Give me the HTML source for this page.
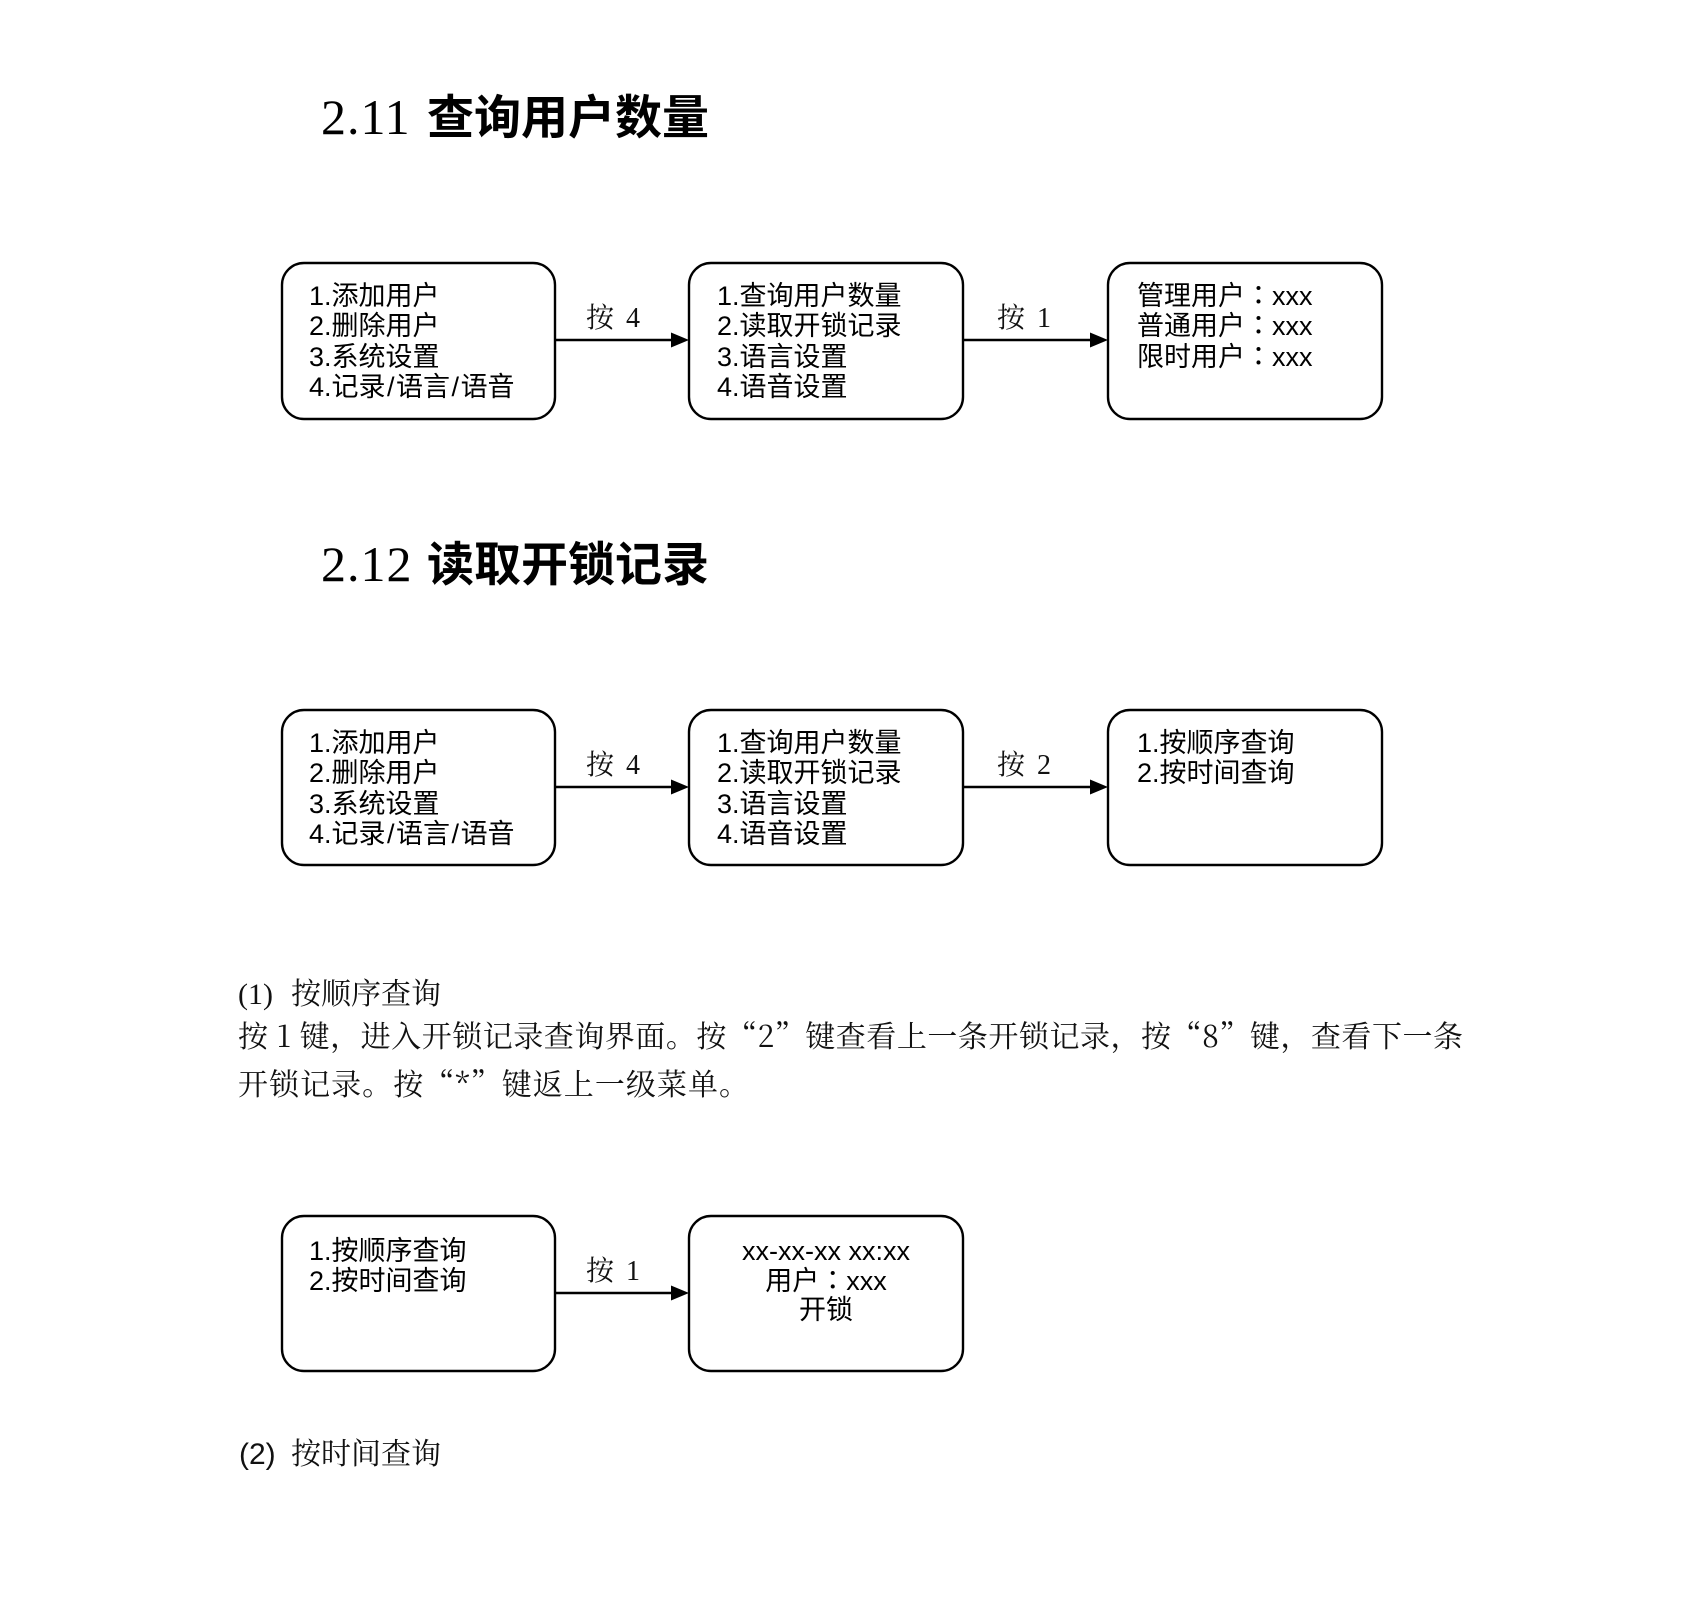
<!DOCTYPE html>
<html>
<head>
<meta charset="utf-8">
<style>
  html, body { margin: 0; padding: 0; background: #ffffff; }
  body { width: 1700px; height: 1619px; overflow: hidden; }
  svg { display: block; }
  .box { fill: #ffffff; stroke: #000000; stroke-width: 2.4; }
  .ln { stroke: #000000; stroke-width: 2.4; fill: none; }
  .hd { fill: #000; }
  .bt { font-family: "Liberation Sans", "Noto Sans CJK SC", sans-serif; font-size: 27px; fill: #000; }
  .lb { font-family: "Liberation Serif", "Noto Serif CJK SC", serif; font-size: 28px; fill: #111; }
  .pt { font-family: "Noto Serif CJK SC", "Liberation Serif", serif; font-size: 30px; fill: #111; }
</style>
</head>
<body>
<svg width="1700" height="1619" viewBox="0 0 1700 1619" xmlns="http://www.w3.org/2000/svg">

  <!-- ===== Heading 2.11 ===== -->
  <text x="321" y="134" font-family="Liberation Serif, serif" font-size="50" letter-spacing="1" class="hd">2.11</text>
  <text x="427" y="134" font-family="Noto Sans CJK SC, sans-serif" font-weight="700" font-size="47" class="hd">查询用户数量</text>

  <!-- ===== Section 1 diagram ===== -->
  <rect class="box" x="282" y="263" width="273" height="156" rx="22" ry="22"/>
  <rect class="box" x="689" y="263" width="274" height="156" rx="22" ry="22"/>
  <rect class="box" x="1108" y="263" width="274" height="156" rx="22" ry="22"/>

  <line class="ln" x1="555" y1="340" x2="673" y2="340"/>
  <polygon points="671,332.5 689,340 671,347.5" fill="#000"/>
  <line class="ln" x1="963" y1="340" x2="1092" y2="340"/>
  <polygon points="1090,332.5 1108,340 1090,347.5" fill="#000"/>

  <text class="lb" x="586" y="327">按<tspan dx="12">4</tspan></text>
  <text class="lb" x="997" y="327">按<tspan dx="12">1</tspan></text>

  <text class="bt" x="309" y="305">1.添加用户</text>
  <text class="bt" x="309" y="335">2.删除用户</text>
  <text class="bt" x="309" y="366">3.系统设置</text>
  <text class="bt" x="309" y="396">4.记录<tspan dx="1.5">/</tspan><tspan dx="1.5">语言</tspan><tspan dx="1.5">/</tspan><tspan dx="1.5">语音</tspan></text>

  <text class="bt" x="717" y="305">1.查询用户数量</text>
  <text class="bt" x="717" y="335">2.读取开锁记录</text>
  <text class="bt" x="717" y="366">3.语言设置</text>
  <text class="bt" x="717" y="396">4.语音设置</text>

  <text class="bt" x="1137" y="305">管理用户<tspan font-family="Noto Sans CJK TC, Noto Sans CJK JP, sans-serif">：</tspan>xxx</text>
  <text class="bt" x="1137" y="335">普通用户<tspan font-family="Noto Sans CJK TC, Noto Sans CJK JP, sans-serif">：</tspan>xxx</text>
  <text class="bt" x="1137" y="366">限时用户<tspan font-family="Noto Sans CJK TC, Noto Sans CJK JP, sans-serif">：</tspan>xxx</text>

  <!-- ===== Heading 2.12 ===== -->
  <text x="321" y="581" font-family="Liberation Serif, serif" font-size="50" letter-spacing="1" class="hd">2.12</text>
  <text x="427" y="581" font-family="Noto Sans CJK SC, sans-serif" font-weight="700" font-size="47" class="hd">读取开锁记录</text>

  <!-- ===== Section 2 diagram ===== -->
  <rect class="box" x="282" y="710" width="273" height="155" rx="22" ry="22"/>
  <rect class="box" x="689" y="710" width="274" height="155" rx="22" ry="22"/>
  <rect class="box" x="1108" y="710" width="274" height="155" rx="22" ry="22"/>

  <line class="ln" x1="555" y1="787" x2="673" y2="787"/>
  <polygon points="671,779.5 689,787 671,794.5" fill="#000"/>
  <line class="ln" x1="963" y1="787" x2="1092" y2="787"/>
  <polygon points="1090,779.5 1108,787 1090,794.5" fill="#000"/>

  <text class="lb" x="586" y="774">按<tspan dx="12">4</tspan></text>
  <text class="lb" x="997" y="774">按<tspan dx="12">2</tspan></text>

  <text class="bt" x="309" y="752">1.添加用户</text>
  <text class="bt" x="309" y="782">2.删除用户</text>
  <text class="bt" x="309" y="813">3.系统设置</text>
  <text class="bt" x="309" y="843">4.记录<tspan dx="1.5">/</tspan><tspan dx="1.5">语言</tspan><tspan dx="1.5">/</tspan><tspan dx="1.5">语音</tspan></text>

  <text class="bt" x="717" y="752">1.查询用户数量</text>
  <text class="bt" x="717" y="782">2.读取开锁记录</text>
  <text class="bt" x="717" y="813">3.语言设置</text>
  <text class="bt" x="717" y="843">4.语音设置</text>

  <text class="bt" x="1137" y="752">1.按顺序查询</text>
  <text class="bt" x="1137" y="782">2.按时间查询</text>

  <!-- ===== Paragraph ===== -->
  <text x="238" y="1004" font-family="Liberation Serif, serif" font-size="30" fill="#111">(1)</text>
  <text class="pt" x="291" y="1004">按顺序查询</text>
  <text class="pt" x="238" y="1047" textLength="1225" lengthAdjust="spacing">按 1 键，进入开锁记录查询界面。按“2”键查看上一条开锁记录，按“8”键，查看下一条</text>
  <text class="pt" x="238" y="1095" textLength="511" lengthAdjust="spacing">开锁记录。按“*”键返上一级菜单。</text>

  <!-- ===== Section 3 diagram ===== -->
  <rect class="box" x="282" y="1216" width="273" height="155" rx="22" ry="22"/>
  <rect class="box" x="689" y="1216" width="274" height="155" rx="22" ry="22"/>

  <line class="ln" x1="555" y1="1293" x2="673" y2="1293"/>
  <polygon points="671,1285.5 689,1293 671,1300.5" fill="#000"/>

  <text class="lb" x="586" y="1280">按<tspan dx="12">1</tspan></text>

  <text class="bt" x="309" y="1260">1.按顺序查询</text>
  <text class="bt" x="309" y="1290">2.按时间查询</text>

  <text class="bt" x="826" y="1260" text-anchor="middle">xx-xx-xx xx:xx</text>
  <text class="bt" x="826" y="1290" text-anchor="middle">用户<tspan font-family="Noto Sans CJK TC, Noto Sans CJK JP, sans-serif">：</tspan>xxx</text>
  <text class="bt" x="826" y="1319" text-anchor="middle">开锁</text>

  <!-- ===== (2) ===== -->
  <text x="239" y="1464" font-family="Liberation Sans, sans-serif" font-size="30" fill="#111">(2)</text>
  <text class="pt" x="291" y="1464">按时间查询</text>

</svg>
</body>
</html>
